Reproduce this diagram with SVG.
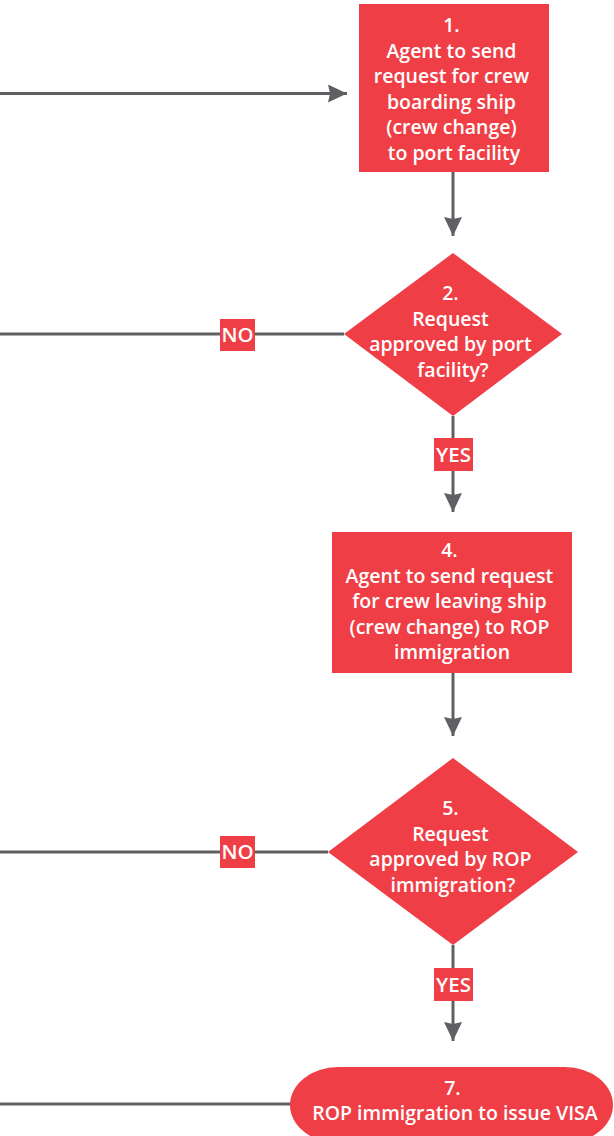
<svg xmlns="http://www.w3.org/2000/svg" width="614" height="1136" viewBox="0 0 614 1136">
  <style>
    .shape { fill: #EF3E45; }
    .lbl { fill: #EF3E45; }
    .txt { font-family: "Open Sans", "Liberation Sans", sans-serif; font-weight: 600; font-size: 19.5px; fill: #FFFFFF; text-anchor: middle; }
    .tag { font-family: "Open Sans", "Liberation Sans", sans-serif; font-weight: 600; font-size: 20.5px; fill: #FFFFFF; text-anchor: middle; }
    .wire { stroke: #5F6064; stroke-width: 3; fill: none; }
    .arrow { marker-end: url(#head); }
  </style>
  <defs>
    <marker id="head" viewBox="0 0 19 18" refX="19" refY="9" markerWidth="19" markerHeight="18" markerUnits="userSpaceOnUse" orient="auto">
      <path d="M0,0 L19,9 L0,18 L2,9 Z" fill="#5F6064"/>
    </marker>
  </defs>

  <!-- connectors -->
  <g id="connectors">
    <line class="wire arrow" x1="0" y1="93.5" x2="347" y2="93.5"/>
    <line class="wire arrow" x1="453" y1="172" x2="453" y2="236"/>
    <line class="wire" x1="0" y1="334" x2="344" y2="334"/>
    <line class="wire arrow" x1="453" y1="416" x2="453" y2="512"/>
    <line class="wire arrow" x1="453" y1="673" x2="453" y2="736"/>
    <line class="wire" x1="0" y1="852" x2="328" y2="852"/>
    <line class="wire arrow" x1="453" y1="945" x2="453" y2="1041"/>
    <line class="wire" x1="0" y1="1104" x2="292" y2="1104"/>

    <!-- branch labels -->
    <g id="label-no-2">
      <rect class="lbl" x="220" y="319" width="35" height="32"/>
      <text class="tag" x="237.5" y="342">NO</text>
    </g>
    <g id="label-yes-2">
      <rect class="lbl" x="434" y="438" width="39" height="33"/>
      <text class="tag" x="453.5" y="462">YES</text>
    </g>
    <g id="label-no-5">
      <rect class="lbl" x="220" y="836" width="35" height="32"/>
      <text class="tag" x="237.5" y="859">NO</text>
    </g>
    <g id="label-yes-5">
      <rect class="lbl" x="434" y="968" width="39" height="33"/>
      <text class="tag" x="453.5" y="992">YES</text>
    </g>
  </g>

  <!-- step 1 -->
  <g id="step1">
    <rect class="shape" x="359" y="4" width="190" height="168"/>
    <text class="txt">
      <tspan x="454" y="32">1.</tspan>
      <tspan x="454" y="57.5">Agent to send</tspan>
      <tspan x="454" y="83">request for crew</tspan>
      <tspan x="454" y="108.5">boarding ship</tspan>
      <tspan x="454" y="134">(crew change)</tspan>
      <tspan x="454" y="159.5">to port facility</tspan>
    </text>
  </g>

  <!-- step 2 -->
  <g id="step2">
    <polygon class="shape" points="453,253 562,334 453,416 344,334"/>
    <text class="txt">
      <tspan x="453" y="300">2.</tspan>
      <tspan x="453" y="325.5">Request</tspan>
      <tspan x="453" y="351">approved by port</tspan>
      <tspan x="453" y="376.5">facility?</tspan>
    </text>
  </g>

  <!-- step 4 -->
  <g id="step4">
    <rect class="shape" x="332" y="532" width="240" height="141"/>
    <text class="txt">
      <tspan x="452" y="557">4.</tspan>
      <tspan x="452" y="582.5">Agent to send request</tspan>
      <tspan x="452" y="608">for crew leaving ship</tspan>
      <tspan x="452" y="633.5">(crew change) to ROP</tspan>
      <tspan x="452" y="659">immigration</tspan>
    </text>
  </g>

  <!-- step 5 -->
  <g id="step5">
    <polygon class="shape" points="453,758 578,852 453,945 328,852"/>
    <text class="txt">
      <tspan x="453" y="815">5.</tspan>
      <tspan x="453" y="840.5">Request</tspan>
      <tspan x="453" y="866">approved by ROP</tspan>
      <tspan x="453" y="891.5">immigration?</tspan>
    </text>
  </g>

  <!-- step 7 -->
  <g id="step7">
    <rect class="shape" x="290" y="1067" width="323" height="76" rx="48" ry="38"/>
    <text class="txt">
      <tspan x="455" y="1095">7.</tspan>
      <tspan x="455" y="1120">ROP immigration to issue VISA</tspan>
    </text>
  </g>
</svg>
